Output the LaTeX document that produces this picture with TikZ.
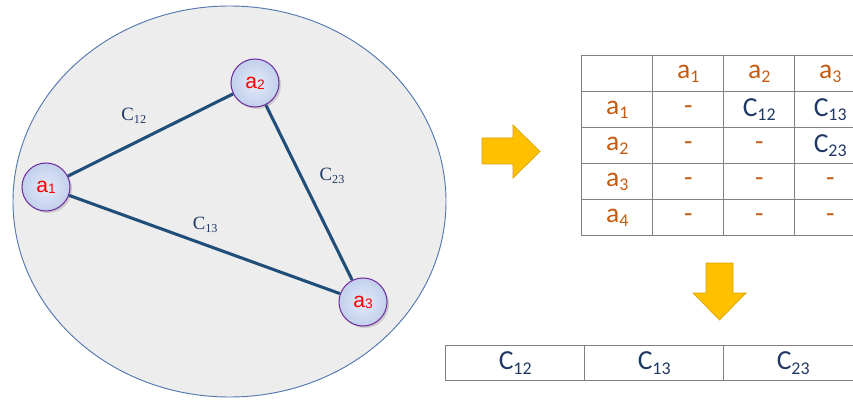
\documentclass[tikz,border=0pt]{standalone}
\usepackage{fontspec}
\usepackage{xcolor}
\usepackage{tikz}
\usetikzlibrary{shapes,arrows.meta,positioning,shadows,matrix}

\newfontfamily\arialface{Liberation Sans}
\newfontfamily\timesface{Liberation Serif}
\newfontfamily\calibriface{Carlito}

\definecolor{fieldgray}{HTML}{EDEDED}
\definecolor{fieldrim}{HTML}{5577B0}
\definecolor{linkblue}{HTML}{1F4E79}
\definecolor{costnavy}{HTML}{1F3864}
\definecolor{agenttext}{HTML}{FF0000}
\definecolor{agentrim}{HTML}{7030A0}
\definecolor{agentblue}{HTML}{A9BEE6}
\definecolor{agentlight}{HTML}{E4EAF7}
\definecolor{taborange}{HTML}{C55A11}
\definecolor{tabnavy}{HTML}{203864}
\definecolor{gridgray}{HTML}{808080}
\definecolor{arrowfill}{HTML}{FFC000}
\definecolor{arrowrim}{HTML}{D9A300}

\pgfdeclareradialshading{agentball}{\pgfpoint{0bp}{0bp}}{color(0bp)=(agentlight); color(30bp)=(agentblue!80); color(50bp)=(agentblue)}

\newcommand{\subidx}[2][-0.35ex]{\raisebox{#1}{\scalebox{0.65}{#2}}}
\newcommand{\aval}[1]{a\subidx{#1}}
\newcommand{\cval}[1]{\textcolor{tabnavy}{C\subidx{#1}}}

\begin{document}
\begin{tikzpicture}[x=0.03cm, y=-0.03cm,
    agent/.style={circle, draw=agentrim, line width=0.9pt, shade, shading=agentball, minimum size=1.44cm, inner sep=0pt, font=\arialface\fontsize{18}{18}\selectfont, text=agenttext, drop shadow={opacity=0.3, shadow xshift=0.06cm, shadow yshift=-0.06cm}},
    link/.style={draw=linkblue, line width=2.6pt},
    costlabel/.style={font=\timesface\fontsize{16}{16}\selectfont, text=costnavy, inner sep=1pt},
    cellbox/.style={rectangle, draw=gridgray, line width=0.8pt, minimum width=2.13cm, minimum height=1.08cm, inner sep=0pt, anchor=center, font=\calibriface\fontsize{23.5}{23.5}\selectfont, text=taborange},
    yarrow/.style={fill=arrowfill, draw=arrowrim, line width=0.6pt, line join=miter}
  ]
    \useasboundingbox (0,0) rectangle (853,401);
    \clip (0,0) rectangle (853,401);

    % field of agents
    \draw[fill=fieldgray, draw=fieldrim, line width=0.8pt] (229.5,201.5) ellipse [x radius=6.495cm, y radius=5.865cm];

    \node[agent] (a1) at (46,187) {a\subidx[-0.1ex]{1}};
    \node[agent] (a2) at (255,83) {a\subidx[-0.1ex]{2}};
    \node[agent] (a3) at (363,302) {a\subidx[-0.1ex]{3}};

    \draw[link] (a1) -- (a2) node[costlabel, midway, xshift=-0.5cm, yshift=0.57cm] (c12) {C\subidx{12}};
    \draw[link] (a2) -- (a3) node[costlabel, midway, xshift=0.69cm, yshift=0.49cm] (c23) {C\subidx{23}};
    \draw[link] (a1) -- (a3) node[costlabel, midway, xshift=0.02cm, yshift=0.6cm] (c13) {C\subidx{13}};

    % arrows
    \draw[yarrow] (482,138) -- (513,138) -- (513,125) -- (540,151.5) -- (513,178) -- (513,164) -- (482,164) -- cycle;
    \draw[yarrow] (706,263) -- (733,263) -- (733,293) -- (746,293) -- (719.5,320) -- (693,293) -- (706,293) -- cycle;

    % cost matrix
    \matrix (adj) [matrix of nodes, nodes in empty cells, anchor=north west, inner sep=0pt, nodes={cellbox}, column sep=-0.8pt, row sep=-0.8pt] at (581,55) {
      & \aval{1} & \aval{2} & \aval{3} \\
      \aval{1} & - & \cval{12} & \cval{13} \\
      \aval{2} & - & - & \cval{23} \\
      \aval{3} & - & - & - \\
      \aval{4} & - & - & - \\
    };

    % flattened list
    \matrix (order) [matrix of nodes, anchor=north west, inner sep=0pt, nodes={cellbox, minimum width=4.17cm, minimum height=1.05cm}, column sep=-0.8pt] at (445,345) {
      \cval{12} & \cval{13} & \cval{23} \\
    };
  \end{tikzpicture}
\end{document}
